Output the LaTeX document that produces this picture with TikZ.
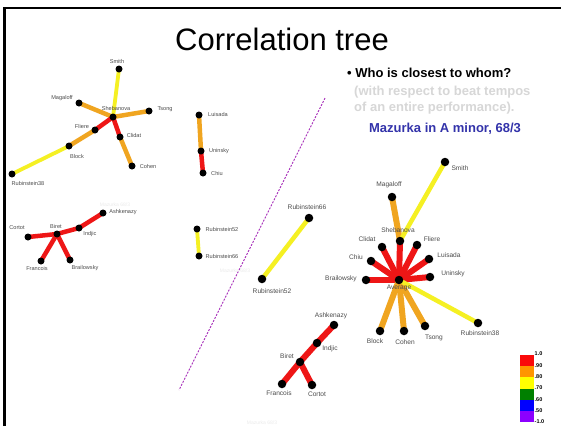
\documentclass[tikz,border=0pt]{standalone}
\usepackage{fontspec}
\setmainfont{Liberation Sans}
\pgfdeclarelayer{bg}
\pgfsetlayers{bg,main}
\definecolor{tred}{RGB}{238,22,22}
\definecolor{torange}{RGB}{240,165,32}
\definecolor{tyellow}{RGB}{245,240,35}
\definecolor{cbred}{RGB}{250,10,10}
\definecolor{cborange}{RGB}{255,150,0}
\definecolor{cbyellow}{RGB}{255,255,0}
\definecolor{cbgreen}{RGB}{0,128,0}
\definecolor{cbblue}{RGB}{0,0,255}
\definecolor{cbpurple}{RGB}{140,0,255}
\definecolor{titleblue}{RGB}{51,51,170}
\definecolor{lightgraytext}{RGB}{215,215,215}
\definecolor{dashpurple}{RGB}{165,40,185}
\tikzset{
  dotR/.style={circle,fill=black,inner sep=0pt,minimum size=8.5pt},
  dotL/.style={circle,fill=black,inner sep=0pt,minimum size=7pt},
  labR/.style={inner sep=0pt,text=black!70,font=\fontsize{6.6}{7}\selectfont},
  labL/.style={inner sep=0pt,text=black!70,font=\fontsize{5.6}{6}\selectfont},
  eR/.style={line width=6pt},
  eRy/.style={line width=4.5pt},
  eL/.style={line width=4.5pt},
  eLy/.style={line width=3.8pt},
  cblab/.style={inner sep=0pt,anchor=west,font=\bfseries\fontsize{5.5}{6}\selectfont},
  wmark/.style={inner sep=0pt,text=black!8,font=\fontsize{5}{5}\selectfont},
}
\begin{document}
\begin{tikzpicture}[x=1pt,y=-1pt]
\useasboundingbox (0,0) rectangle (561,426);
\begin{pgfonlayer}{bg}
\fill[white] (0,0) rectangle (561,426);
\end{pgfonlayer}
% frame
\draw[line width=2.5pt] (4.5,426) -- (4.5,8) -- (561,8);

% title and text
\node[anchor=base,inner sep=0pt,font=\fontsize{31}{31}\selectfont] (title) at (282,50) {Correlation tree};
\node[anchor=base west,inner sep=0pt,font=\bfseries\fontsize{13}{13}\selectfont] (q) at (347,77) {\textbullet\ Who is closest to whom?};
\node[anchor=base west,inner sep=0pt,text=lightgraytext,font=\bfseries\fontsize{13}{13}\selectfont] (g1) at (354,95) {(with respect to beat tempos};
\node[anchor=base west,inner sep=0pt,text=lightgraytext,font=\bfseries\fontsize{13}{13}\selectfont] (g2) at (354,111) {of an entire performance).};
\node[anchor=base,inner sep=0pt,text=titleblue,font=\bfseries\fontsize{13}{13}\selectfont] (maz) at (445,132) {Mazurka in A minor, 68/3};

% dashed divider
\coordinate (dA) at (325,98);
\coordinate (dB) at (179,390);
\draw[dashpurple,line width=0.9pt,dash pattern=on 2pt off 1.4pt] (dA) -- (dB);

% ---------- left top tree ----------
\node[dotL] (lSmith) at (119,69) {};
\node[dotL] (lSheb) at (113,117) {};
\node[dotL] (lMag) at (79,103) {};
\node[dotL] (lTsong) at (149,111) {};
\node[dotL] (lFliere) at (95,130) {};
\node[dotL] (lClidat) at (120,137) {};
\node[dotL] (lCohen) at (132,166) {};
\node[dotL] (lBlock) at (69,146) {};
\node[dotL] (lRub38) at (12,174) {};
\node[labL] (tlSmith) at (117,61) {Smith};
\node[labL] (tlSheb) at (116,108) {Shebanova};
\node[labL] (tlMag) at (62,98) {Magaloff};
\node[labL] (tlTsong) at (165,109) {Tsong};
\node[labL] (tlFliere) at (82,126) {Fliere};
\node[labL] (tlClidat) at (134,135) {Clidat};
\node[labL] (tlCohen) at (148,166) {Cohen};
\node[labL] (tlBlock) at (77,156) {Block};
\node[labL] (tlRub38) at (28,183) {Rubinstein38};

% ---------- left middle chain ----------
\node[dotL] (lLuis) at (199,115) {};
\node[dotL] (lUnin) at (201,151) {};
\node[dotL] (lChiu) at (203,173) {};
\node[labL] (tlLuis) at (218,114) {Luisada};
\node[labL] (tlUnin) at (219,151) {Uninsky};
\node[labL] (tlChiu) at (217,173) {Chiu};

% ---------- left bottom tree ----------
\node[dotL] (lAsh) at (103,213) {};
\node[dotL] (lInd) at (79,228) {};
\node[dotL] (lBiret) at (57,234) {};
\node[dotL] (lCortot) at (28,237) {};
\node[dotL] (lFran) at (41,261) {};
\node[dotL] (lBrai) at (70,260) {};
\node[labL] (tlAsh) at (123,212) {Ashkenazy};
\node[labL] (tlInd) at (90,234) {Indjic};
\node[labL] (tlBiret) at (56,226) {Biret};
\node[labL] (tlCortot) at (17,228) {Cortot};
\node[labL] (tlFran) at (37,268) {Francois};
\node[labL] (tlBrai) at (85,268) {Brailowsky};

\node[dotL] (lR52) at (197,229) {};
\node[dotL] (lR66) at (199,256) {};
\node[labL] (tlR52) at (222,229) {Rubinstein52};
\node[labL] (tlR66) at (222,256) {Rubinstein66};
\node[wmark] (wm1) at (235,271) {Mazurka 68/3};
\node[wmark] (wm2) at (115,205) {Mazurka 68/3};

% ---------- right big tree ----------
\node[dotR] (rAvg) at (399,280) {};
\node[dotR] (rSheb) at (400,241) {};
\node[dotR] (rClidat) at (382,247) {};
\node[dotR] (rFliere) at (417,245) {};
\node[dotR] (rChiu) at (371,261) {};
\node[dotR] (rLuis) at (429,259) {};
\node[dotR] (rBrai) at (366,280) {};
\node[dotR] (rUnin) at (430,277) {};
\node[dotR] (rMag) at (392,197) {};
\node[dotR] (rSmith) at (445,162) {};
\node[dotR] (rBlock) at (380,331) {};
\node[dotR] (rCohen) at (404,331) {};
\node[dotR] (rTsong) at (425,326) {};
\node[dotR] (rRub38) at (478,323) {};
\node[labR] (trAvg) at (399,288) {Average};
\node[labR] (trSheb) at (398,230) {Shebanova};
\node[labR] (trClidat) at (367,239) {Clidat};
\node[labR] (trFliere) at (432,239) {Fliere};
\node[labR] (trChiu) at (356,257) {Chiu};
\node[labR] (trLuis) at (449,255) {Luisada};
\node[labR] (trBrai) at (341,279) {Brailowsky};
\node[labR] (trUnin) at (453,274) {Uninsky};
\node[labR] (trMag) at (389,185) {Magaloff};
\node[labR] (trSmith) at (460,168) {Smith};
\node[labR] (trBlock) at (375,341) {Block};
\node[labR] (trCohen) at (405,342) {Cohen};
\node[labR] (trTsong) at (434,338) {Tsong};
\node[labR] (trRub38) at (480,333) {Rubinstein38};

\node[dotR] (rR66) at (309,218) {};
\node[dotR] (rR52) at (262,279) {};
\node[labR] (trR66) at (307,207) {Rubinstein66};
\node[labR] (trR52) at (272,291) {Rubinstein52};

% ---------- right bottom tree ----------
\node[dotR] (rAsh) at (334,325) {};
\node[dotR] (rInd) at (317,343) {};
\node[dotR] (rBiret) at (300,362) {};
\node[dotR] (rFran) at (282,384) {};
\node[dotR] (rCortot) at (312,385) {};
\node[labR] (trAsh) at (331,316) {Ashkenazy};
\node[labR] (trInd) at (330,349) {Indjic};
\node[labR] (trBiret) at (287,356) {Biret};
\node[labR] (trFran) at (279,393) {Francois};
\node[labR] (trCortot) at (317,394) {Cortot};
\node[wmark] (wm3) at (262,423) {Mazurka 68/3};

% ---------- colour bar ----------
\fill[cbred] (520,355) rectangle (534,366.2);
\fill[cborange] (520,366.2) rectangle (534,377.3);
\fill[cbyellow] (520,377.3) rectangle (534,388.5);
\fill[cbgreen] (520,388.5) rectangle (534,399.7);
\fill[cbblue] (520,399.7) rectangle (534,410.8);
\fill[cbpurple] (520,410.8) rectangle (534,422);
\node[cblab] (c1) at (534.5,354) {1.0};
\node[cblab] (c2) at (534.5,365.5) {.90};
\node[cblab] (c3) at (534.5,376.8) {.80};
\node[cblab] (c4) at (534.5,388) {.70};
\node[cblab] (c5) at (534.5,399.3) {.60};
\node[cblab] (c6) at (534.5,410.5) {.50};
\node[cblab] (c7) at (534.5,421.5) {-1.0};

% ---------- edges ----------
\begin{pgfonlayer}{bg}
\draw[eLy,tyellow] (lSmith.center) -- (lSheb.center);
\draw[eL,torange] (lMag.center) -- (lSheb.center);
\draw[eL,torange] (lTsong.center) -- (lSheb.center);
\draw[eL,tred] (lSheb.center) -- (lFliere.center);
\draw[eL,tred] (lSheb.center) -- (lClidat.center);
\draw[eL,torange] (lClidat.center) -- (lCohen.center);
\draw[eL,torange] (lFliere.center) -- (lBlock.center);
\draw[eLy,tyellow] (lBlock.center) -- (lRub38.center);
\draw[eL,torange] (lLuis.center) -- (lUnin.center);
\draw[eL,tred] (lUnin.center) -- (lChiu.center);
\draw[eL,tred] (lAsh.center) -- (lInd.center);
\draw[eL,tred] (lInd.center) -- (lBiret.center);
\draw[eL,tred] (lBiret.center) -- (lCortot.center);
\draw[eL,tred] (lBiret.center) -- (lFran.center);
\draw[eL,tred] (lBiret.center) -- (lBrai.center);
\draw[eLy,tyellow] (lR52.center) -- (lR66.center);
% right
\draw[eR,tred] (rAvg.center) -- (rSheb.center);
\draw[eR,tred] (rAvg.center) -- (rClidat.center);
\draw[eR,tred] (rAvg.center) -- (rFliere.center);
\draw[eR,tred] (rAvg.center) -- (rChiu.center);
\draw[eR,tred] (rAvg.center) -- (rLuis.center);
\draw[eR,tred] (rAvg.center) -- (rBrai.center);
\draw[eR,tred] (rAvg.center) -- (rUnin.center);
\draw[eR,torange] (rSheb.center) -- (rMag.center);
\draw[eRy,tyellow] (rSheb.center) -- (rSmith.center);
\draw[eR,torange] (rAvg.center) -- (rBlock.center);
\draw[eR,torange] (rAvg.center) -- (rCohen.center);
\draw[eR,torange] (rAvg.center) -- (rTsong.center);
\draw[eRy,tyellow] (rAvg.center) -- (rRub38.center);
\draw[eRy,tyellow] (rR66.center) -- (rR52.center);
\draw[eR,tred] (rAsh.center) -- (rInd.center);
\draw[eR,tred] (rInd.center) -- (rBiret.center);
\draw[eR,tred] (rBiret.center) -- (rFran.center);
\draw[eR,tred] (rBiret.center) -- (rCortot.center);
\end{pgfonlayer}
\end{tikzpicture}
\end{document}
